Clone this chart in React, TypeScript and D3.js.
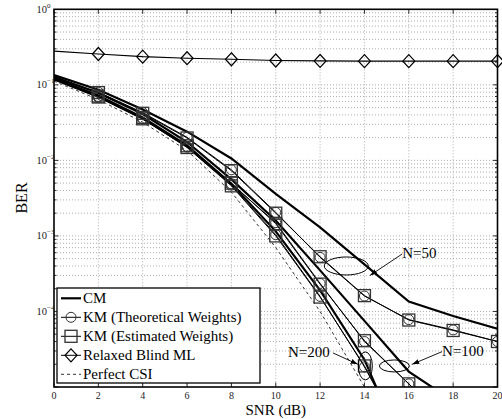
import React, { useEffect, useRef } from "react";
import * as d3 from "d3";

// SNR points (dB)
const snr = [0, 2, 4, 6, 8, 10, 12, 14, 16, 18, 20];
const xTicks = [0, 2, 4, 6, 8, 10, 12, 14, 16, 18, 20];
const yTickExps = [0, -1, -2, -3, -4];

// BER curves
const relaxedBlindML = [0.28, 0.256, 0.236, 0.225, 0.218, 0.21, 0.207, 0.206, 0.206, 0.206, 0.206];
const perfectCSI = [0.112, 0.064, 0.032, 0.0135, 0.0038, 7.0e-4, 1.0e-4, 1.0e-5, 7e-7, 5e-8, 4e-9];

const cm50 = [0.135, 0.086, 0.047, 0.024, 0.0106, 3.6e-3, 1.3e-3, 4.2e-4, 1.35e-4, 8.7e-5, 5.9e-5];
const cm100 = [0.128, 0.078, 0.041, 0.0175, 5.6e-3, 1.6e-3, 3.5e-4, 7.5e-5, 1.6e-5, 6.5e-6, 2.5e-6];
const cm200 = [0.122, 0.072, 0.037, 0.0158, 4.9e-3, 1.15e-3, 1.9e-4, 2.3e-5, 1e-6, 5e-8, 3e-9];

const kmTheo50 = [0.125, 0.08, 0.043, 0.0202, 0.0075, 2.05e-3, 5.2e-4, 1.6e-4, 7.8e-5, 5.7e-5, 4.0e-5];
const kmEst50 = [0.124, 0.079, 0.042, 0.0198, 0.0073, 2.0e-3, 5.3e-4, 1.62e-4, 7.7e-5, 5.6e-5, 4.0e-5];
const kmTheo100 = [0.118, 0.07, 0.036, 0.0153, 4.9e-3, 1.5e-3, 2.35e-4, 4.0e-5, 1.1e-5, 3e-6, 1e-6];
const kmEst100 = [0.119, 0.071, 0.037, 0.0156, 5.0e-3, 1.45e-3, 2.3e-4, 4.1e-5, 1.1e-5, 3e-6, 1e-6];
const kmTheo200 = [0.116, 0.068, 0.035, 0.015, 4.7e-3, 1.04e-3, 1.58e-4, 1.85e-5, 1.5e-6, 1e-7, 1e-8];
const kmEst200 = [0.117, 0.069, 0.0355, 0.0148, 4.6e-3, 1.0e-3, 1.55e-4, 1.9e-5, 1.6e-6, 1e-7, 1e-8];

const legendLabels = ["CM", "KM (Theoretical Weights)", "KM (Estimated Weights)", "Relaxed Blind ML", "Perfect CSI"];

// annotation ellipses + labels, placed in data units
const ellipses = [
  { label: "N=50", cx: 13.18, cy: 4.0e-4, rx: 22, ry: 9, tx: 15.7, ty: 5.1e-4, ax: 14.25, ay: 3.0e-4 },
  { label: "N=100", cx: 15.35, cy: 1.9e-5, rx: 15, ry: 6, tx: 17.5, ty: 2.6e-5, ax: 16.15, ay: 2.0e-5 },
  { label: "N=200", cx: 14.04, cy: 1.9e-5, rx: 7, ry: 14, tx: 10.55, ty: 2.5e-5, ax: 13.7, ay: 2.0e-5 },
];

const W = 502;
const H = 419;
const FONT = "'Liberation Serif', 'DejaVu Serif', serif";

function App() {
  const svgRef = useRef(null);

  useEffect(() => {
    const svg = d3.select(svgRef.current);
    svg.selectAll("*").remove();

    const x = d3.scaleLinear().domain([0, 20]).range([54, 497.5]);
    const y = d3.scaleLog().domain([1e-5, 1]).range([387, 9.3]);
    const [x0, x1] = x.range();
    const [y0, y1] = y.range();

    svg.append("rect").attr("width", W).attr("height", H).attr("fill", "white");

    svg.append("defs").append("clipPath").attr("id", "plotClip")
      .append("rect").attr("x", x0).attr("y", y1).attr("width", x1 - x0).attr("height", y0 - y1);

    // grid
    const grid = svg.append("g").attr("stroke", "#8a8a8a").attr("stroke-width", 0.7)
      .attr("stroke-dasharray", "1,2");
    xTicks.slice(1, -1).forEach((t) => {
      grid.append("line").attr("x1", x(t)).attr("x2", x(t)).attr("y1", y1).attr("y2", y0);
    });
    const minor = [];
    for (let e = -5; e < 0; e++) {
      for (let m = 1; m < 10; m++) minor.push(m * Math.pow(10, e));
    }
    minor.slice(1).forEach((v) => {
      grid.append("line").attr("x1", x0).attr("x2", x1).attr("y1", y(v)).attr("y2", y(v));
    });

    // ticks (inside, all sides)
    const ticks = svg.append("g").attr("stroke", "black").attr("stroke-width", 0.8);
    xTicks.forEach((t) => {
      ticks.append("line").attr("x1", x(t)).attr("x2", x(t)).attr("y1", y0).attr("y2", y0 - 4.5);
      ticks.append("line").attr("x1", x(t)).attr("x2", x(t)).attr("y1", y1).attr("y2", y1 + 4.5);
    });
    minor.forEach((v, i) => {
      const len = i % 9 === 0 ? 4.5 : 2.5;
      ticks.append("line").attr("x1", x0).attr("x2", x0 + len).attr("y1", y(v)).attr("y2", y(v));
      ticks.append("line").attr("x1", x1).attr("x2", x1 - len).attr("y1", y(v)).attr("y2", y(v));
    });

    // curves
    const plot = svg.append("g").attr("clip-path", "url(#plotClip)");
    const line = d3.line().x((d, i) => x(snr[i])).y((d) => y(d));

    const thin = [kmTheo50, kmEst50, kmTheo100, kmEst100, kmTheo200, kmEst200];
    thin.forEach((s) => {
      plot.append("path").datum(s).attr("fill", "none").attr("stroke", "black")
        .attr("stroke-width", 1).attr("d", line);
    });
    [cm50, cm100, cm200].forEach((s) => {
      plot.append("path").datum(s).attr("fill", "none").attr("stroke", "black")
        .attr("stroke-width", 2.2).attr("d", line);
    });
    plot.append("path").datum(perfectCSI).attr("fill", "none").attr("stroke", "#333")
      .attr("stroke-width", 1).attr("stroke-dasharray", "3,3").attr("d", line);
    plot.append("path").datum(relaxedBlindML).attr("fill", "none").attr("stroke", "black")
      .attr("stroke-width", 1.2).attr("d", line);

    // markers
    const diamond = (g, cx, cy) => g.append("path")
      .attr("d", `M${cx},${cy - 6.5}L${cx + 6},${cy}L${cx},${cy + 6.5}L${cx - 6},${cy}Z`)
      .attr("fill", "none").attr("stroke", "black").attr("stroke-width", 1.2);
    const square = (g, cx, cy) => g.append("rect")
      .attr("x", cx - 6).attr("y", cy - 6).attr("width", 12).attr("height", 12)
      .attr("fill", "none").attr("stroke", "#333").attr("stroke-width", 1.3);
    const circle = (g, cx, cy) => g.append("circle")
      .attr("cx", cx).attr("cy", cy).attr("r", 5)
      .attr("fill", "none").attr("stroke", "#333").attr("stroke-width", 1);

    const inside = (v) => v >= 1e-5;
    [kmTheo50, kmTheo100, kmTheo200].forEach((s) => {
      s.forEach((v, i) => { if (i > 0 && inside(v)) circle(plot, x(snr[i]), y(v)); });
    });
    [kmEst50, kmEst100, kmEst200].forEach((s) => {
      s.forEach((v, i) => { if (i > 0 && inside(v)) square(plot, x(snr[i]), y(v)); });
    });
    const rbmlMarks = svg.append("g");
    relaxedBlindML.forEach((v, i) => { if (i > 0) diamond(rbmlMarks, x(snr[i]), y(v)); });

    // annotations
    const ann = svg.append("g");
    ann.append("defs").append("marker").attr("id", "arrowHead")
      .attr("viewBox", "0 0 10 10").attr("refX", 10).attr("refY", 5)
      .attr("markerWidth", 8).attr("markerHeight", 8).attr("orient", "auto-start-reverse")
      .append("path").attr("d", "M0,1.5L10,5L0,8.5Z").attr("fill", "black");
    ellipses.forEach((a) => {
      ann.append("ellipse").attr("cx", x(a.cx)).attr("cy", y(a.cy)).attr("rx", a.rx).attr("ry", a.ry)
        .attr("fill", "none").attr("stroke", "black").attr("stroke-width", 1);
      const tx = x(a.tx);
      const ty = y(a.ty);
      ann.append("text").attr("x", tx).attr("y", ty).attr("font-family", FONT)
        .attr("font-size", 15).text(a.label);
      const startX = a.tx < a.ax ? tx + 45 : tx;
      ann.append("line").attr("x1", startX).attr("y1", ty - 4).attr("x2", x(a.ax)).attr("y2", y(a.ay))
        .attr("stroke", "black").attr("stroke-width", 0.9).attr("marker-end", "url(#arrowHead)");
    });

    // frame
    svg.append("rect").attr("x", x0).attr("y", y1).attr("width", x1 - x0).attr("height", y0 - y1)
      .attr("fill", "none").attr("stroke", "black").attr("stroke-width", 1.6);

    // tick labels
    xTicks.forEach((t) => {
      svg.append("text").attr("x", x(t)).attr("y", 398.5).attr("text-anchor", "middle")
        .attr("font-family", FONT).attr("font-size", 10).attr("fill", "#222").text(t);
    });
    yTickExps.forEach((e) => {
      const yy = y(Math.pow(10, e));
      svg.append("text").attr("x", 47).attr("y", yy + 3.5).attr("text-anchor", "end")
        .attr("font-family", FONT).attr("font-size", 10.5).attr("fill", "#222").text("10");
      svg.append("text").attr("x", 47).attr("y", yy - 1.5)
        .attr("font-family", FONT).attr("font-size", 7).attr("fill", "#222")
        .text(e === 0 ? "0" : "\u2212" + Math.abs(e));
    });

    // axis labels
    svg.append("text").attr("x", (x0 + x1) / 2).attr("y", 415).attr("text-anchor", "middle")
      .attr("font-family", FONT).attr("font-size", 15).text("SNR (dB)");
    svg.append("text").attr("transform", "translate(27,198) rotate(-90)").attr("text-anchor", "middle")
      .attr("font-family", FONT).attr("font-size", 16).text("BER");

    // legend
    const lg = svg.append("g");
    lg.append("rect").attr("x", 57).attr("y", 288).attr("width", 203).attr("height", 95)
      .attr("fill", "white").attr("stroke", "black").attr("stroke-width", 1.3);
    legendLabels.forEach((label, i) => {
      const cy = 298.3 + i * 19;
      const l = lg.append("line").attr("x1", 61).attr("x2", 81).attr("y1", cy).attr("y2", cy)
        .attr("stroke", "black").attr("stroke-width", i === 0 ? 2.2 : 1);
      if (i === 4) l.attr("stroke", "#333").attr("stroke-dasharray", "3,3");
      if (i === 1) circle(lg, 71, cy);
      if (i === 2) square(lg, 71, cy);
      if (i === 3) diamond(lg, 71, cy);
      lg.append("text").attr("x", 83).attr("y", cy + 5).attr("font-family", FONT)
        .attr("font-size", 15).text(label);
    });
  }, []);

  return (
    <svg ref={svgRef} width={W} height={H}
      style={{ position: "absolute", left: 0, top: 0 }}></svg>
  );
}

export default App;
